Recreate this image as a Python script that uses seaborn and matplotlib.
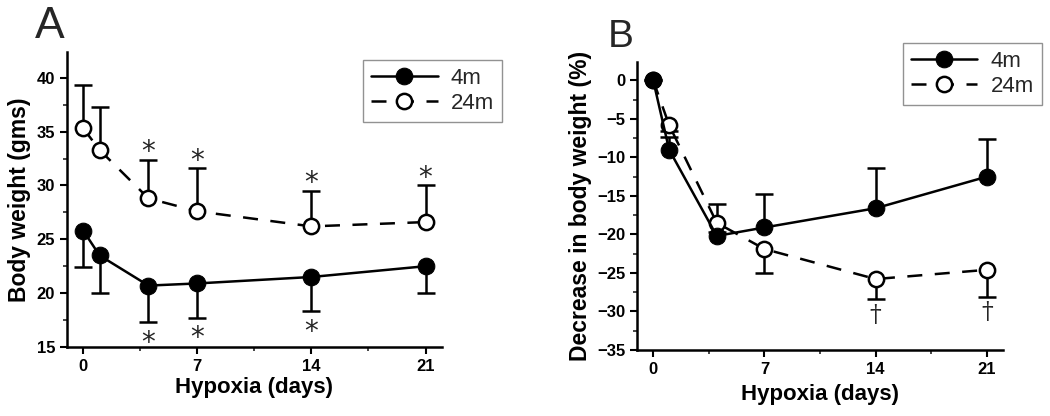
import matplotlib
matplotlib.use("Agg")
import matplotlib.pyplot as plt
import seaborn as sns
import pandas as pd
from matplotlib.ticker import MultipleLocator

# days of hypoxia
days = [0, 1, 4, 7, 14, 21]

# panel A: body weight (gms), error bars drawn one side only
a_4m = [25.8, 23.5, 20.7, 20.9, 21.5, 22.5]
a_4m_err = [3.4, 3.5, 3.4, 3.2, 3.2, 2.5]
a_24m = [35.3, 33.3, 28.8, 27.6, 26.2, 26.6]
a_24m_err = [4.0, 4.0, 3.6, 4.0, 3.3, 3.4]
a_star_24m = [4, 7, 14, 21]
a_star_4m = [4, 7, 14]

# panel B: decrease in body weight (%)
b_4m = [0, -9.0, -20.2, -19.1, -16.6, -12.5]
b_4m_err = [0, 1.7, 4.1, 4.3, 5.2, 4.9]
b_24m = [0, -5.8, -18.5, -21.9, -25.8, -24.6]
b_24m_err = [0, 0.8, 1.2, 3.1, 2.6, 3.5]
b_dagger_24m = [14, 21]

sns.set_theme(style="ticks")
plt.rcParams["font.family"] = ["Liberation Sans", "DejaVu Sans"]

fig = plt.figure(figsize=(10.5, 4.16), dpi=100)
axA = fig.add_axes([0.0638, 0.166, 0.357, 0.709])
axB = fig.add_axes([0.607, 0.159, 0.348, 0.692])

LW = 1.8


def one_sided(ax, y, e, up):
    zeros = [0] * len(days)
    err = [zeros, e] if up else [e, zeros]
    _, caps, _ = ax.errorbar(days, y, yerr=err, fmt="none", ecolor="black",
                             elinewidth=LW, capsize=6.5, capthick=LW, zorder=1)
    # caps come as (lower, upper); hide the one on the empty side
    caps[0 if up else 1].set_visible(False)


def draw_panel(ax, y4, e4, up4, y24, e24, up24):
    one_sided(ax, y4, e4, up4)
    one_sided(ax, y24, e24, up24)
    df = pd.DataFrame({"day": days, "m4": y4, "m24": y24})
    sns.lineplot(data=df, x="day", y="m4", ax=ax, color="black", marker="o",
                 markersize=12, markeredgecolor="black", linewidth=LW, label="4m",
                 zorder=3)
    sns.lineplot(data=df, x="day", y="m24", ax=ax, color="black", marker="o",
                 markersize=11, markerfacecolor="white", markeredgecolor="black",
                 markeredgewidth=1.8, linewidth=LW, linestyle=(0, (6, 5)), label="24m")
    ax.set_xlim(-1, 22)
    ax.set_xticks([0, 7, 14, 21])
    ax.xaxis.set_minor_locator(MultipleLocator(3.5))
    ax.yaxis.set_minor_locator(MultipleLocator(2.5))
    sns.despine(ax=ax)
    for s in ["left", "bottom"]:
        ax.spines[s].set_linewidth(1.8)
        ax.spines[s].set_color("black")
    ax.tick_params(which="major", direction="out", length=5, width=1.5,
                   labelsize=12, colors="black")
    ax.tick_params(which="minor", direction="out", length=3, width=1.2)
    for lab in ax.get_xticklabels() + ax.get_yticklabels():
        lab.set_fontweight("bold")
    ax.set_xlabel("Hypoxia (days)", fontsize=16, fontweight="bold", color="black")


draw_panel(axA, a_4m, a_4m_err, False, a_24m, a_24m_err, True)
axA.set_ylim(15, 42.4)
axA.set_yticks([15, 20, 25, 30, 35, 40])
axA.set_ylabel("Body weight (gms)", fontsize=16.5, fontweight="bold", color="black")
axA.xaxis.labelpad = 2
for d in a_star_24m:
    i = days.index(d)
    axA.text(d, a_24m[i] + a_24m_err[i] + 0.7, "*", ha="center", va="center",
             fontsize=20, family=["DejaVu Sans"])
for d in a_star_4m:
    i = days.index(d)
    axA.text(d, a_4m[i] - a_4m_err[i] - 1.9, "*", ha="center", va="center",
             fontsize=20, family=["DejaVu Sans"])

draw_panel(axB, b_4m, b_4m_err, True, b_24m, b_24m_err, False)
axB.set_ylim(-35, 2.4)
axB.set_yticks([0, -5, -10, -15, -20, -25, -30, -35])
axB.set_ylabel("Decrease in body weight (%)", fontsize=16.5, fontweight="bold", color="black")
axB.xaxis.labelpad = 5
for d in b_dagger_24m:
    i = days.index(d)
    axB.text(d, b_24m[i] - b_24m_err[i] - 0.6, "\u2020", ha="center", va="top",
             fontsize=17, family=["DejaVu Serif"])

for ax, anchor in [(axA, (0.478, 0.856)), (axB, (0.992, 0.897))]:
    leg = ax.legend(loc="upper right", bbox_to_anchor=anchor, bbox_transform=fig.transFigure,
                    borderaxespad=0, frameon=True, fancybox=False, fontsize=16,
                    handlelength=3.0, borderpad=0.35, labelspacing=0.2, handletextpad=0.6)
    leg.get_frame().set_edgecolor("#777777")
    leg.get_frame().set_linewidth(1.0)

fig.text(0.033, 0.985, "A", fontsize=32, va="top", ha="left")
fig.text(0.579, 0.955, "B", fontsize=28, va="top", ha="left")

fig.savefig("out.png", dpi=100)
